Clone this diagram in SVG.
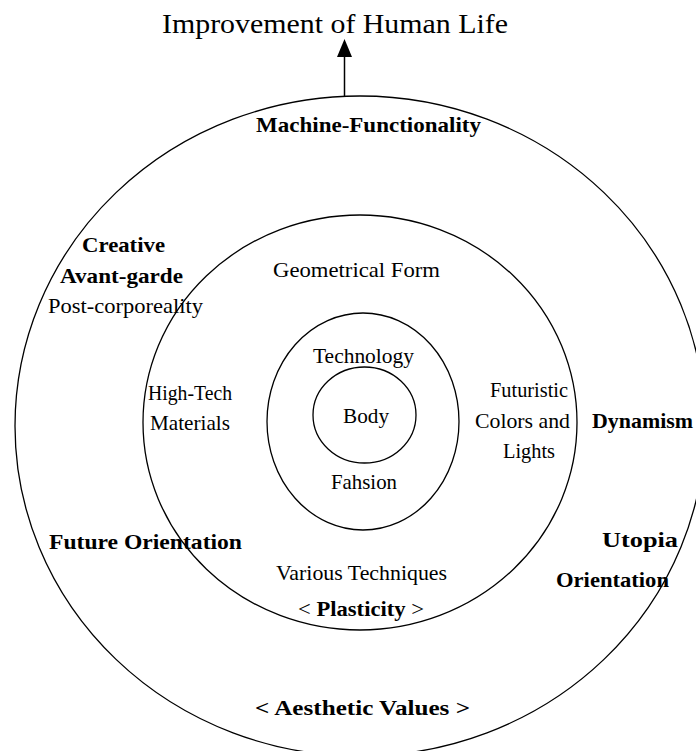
<svg xmlns="http://www.w3.org/2000/svg" width="696" height="751" viewBox="0 0 696 751">
<style>
.c{fill:none;stroke:#000;stroke-width:1.3}
.t{font-family:"Liberation Serif","Times New Roman",serif;font-size:22px;fill:#000}
.b{font-weight:bold}
</style>
<rect width="696" height="751" fill="#fff"/>
<g id="connectors">
<line x1="344.5" y1="96" x2="344.5" y2="57" stroke="#000" stroke-width="1.5"/>
<path d="M337,57 L344.5,39 L352,57 Z" fill="#000"/>
</g>
<g id="title"><text class="t" x="162" y="33" style="font-size:27px" textLength="346" lengthAdjust="spacingAndGlyphs">Improvement of Human Life</text></g>
<g id="outer">
<ellipse class="c" cx="360" cy="426" rx="345" ry="330"/>
<text class="t b" x="256" y="132" textLength="225" lengthAdjust="spacingAndGlyphs">Machine-Functionality</text>
<text class="t b" x="82" y="252" textLength="83" lengthAdjust="spacingAndGlyphs">Creative</text>
<text class="t b" x="60" y="283" textLength="123" lengthAdjust="spacingAndGlyphs">Avant-garde</text>
<text class="t" x="48" y="313" textLength="155" lengthAdjust="spacingAndGlyphs">Post-corporeality</text>
<text class="t b" x="592" y="428" textLength="101" lengthAdjust="spacingAndGlyphs">Dynamism</text>
<text class="t b" x="49" y="549" textLength="193" lengthAdjust="spacingAndGlyphs">Future Orientation</text>
<text class="t b" x="602" y="547" textLength="76" lengthAdjust="spacingAndGlyphs">Utopia</text>
<text class="t b" x="556" y="587" textLength="113" lengthAdjust="spacingAndGlyphs">Orientation</text>
<text class="t b" x="255" y="715" textLength="215" lengthAdjust="spacingAndGlyphs">&lt; Aesthetic Values &gt;</text>
</g>
<g id="middle">
<ellipse class="c" cx="360" cy="422.5" rx="217" ry="207.5"/>
<text class="t" x="273" y="277" textLength="167" lengthAdjust="spacingAndGlyphs">Geometrical Form</text>
<text class="t" x="148" y="400" textLength="84" lengthAdjust="spacingAndGlyphs">High-Tech</text>
<text class="t" x="150" y="430" textLength="80" lengthAdjust="spacingAndGlyphs">Materials</text>
<text class="t" x="490" y="397" textLength="78" lengthAdjust="spacingAndGlyphs">Futuristic</text>
<text class="t" x="475" y="428" textLength="95" lengthAdjust="spacingAndGlyphs">Colors and</text>
<text class="t" x="503" y="458" textLength="52" lengthAdjust="spacingAndGlyphs">Lights</text>
<text class="t" x="276" y="580" textLength="171" lengthAdjust="spacingAndGlyphs">Various Techniques</text>
<text class="t" x="298" y="616" textLength="126" lengthAdjust="spacingAndGlyphs">&lt; <tspan class="b">Plasticity</tspan> &gt;</text>
</g>
<g id="inner">
<ellipse class="c" cx="363" cy="421.5" rx="96" ry="108.5"/>
<text class="t" x="313" y="363" textLength="101" lengthAdjust="spacingAndGlyphs">Technology</text>
<text class="t" x="331" y="489" textLength="66" lengthAdjust="spacingAndGlyphs">Fahsion</text>
</g>
<g id="body">
<ellipse class="c" cx="364.5" cy="415" rx="51.5" ry="48"/>
<text class="t" x="343" y="423" textLength="46" lengthAdjust="spacingAndGlyphs">Body</text>
</g>
</svg>
